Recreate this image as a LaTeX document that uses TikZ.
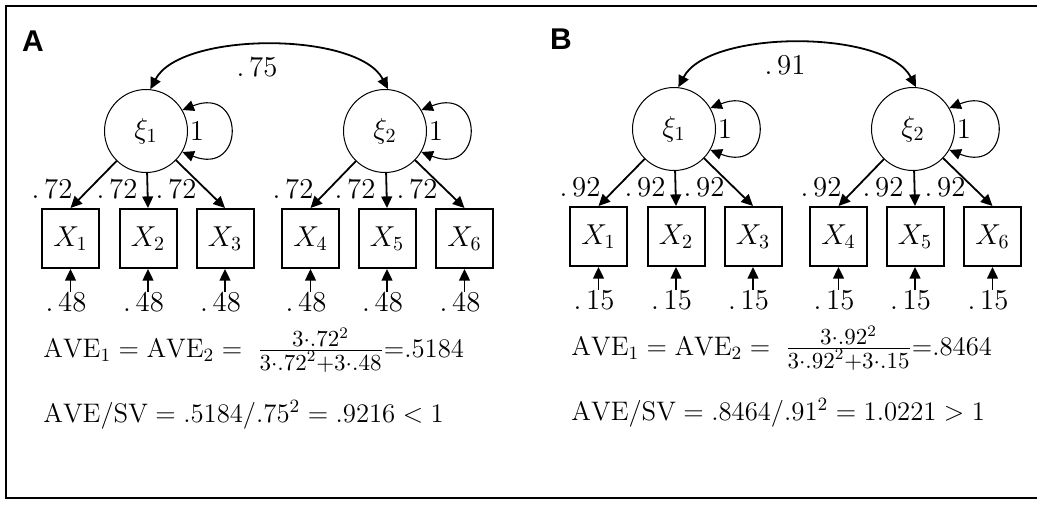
\RequirePackage{fix-cm}
\documentclass[tikz,border=0pt]{standalone}
\usepackage{fontspec}
\newfontfamily\panelfont{Liberation Sans}
\usetikzlibrary{arrows.meta}
\tikzset{
  x=0.5pt, y=-0.5pt,
  latent/.style={circle, draw, line width=0.5pt, minimum size=41.5pt, inner sep=0pt, font=\fontsize{14.4}{16}\selectfont},
  manifest/.style={rectangle, draw, line width=1pt, minimum width=28.5pt, minimum height=29.5pt, inner sep=0pt, font=\fontsize{14.4}{16}\selectfont},
  tiphead/.style={-{Triangle[length=5.8pt,width=5.4pt]}},
  arr/.style={line width=0.9pt, tiphead},
  dblarr/.style={line width=0.9pt, {Triangle[length=5.8pt,width=5.4pt]}-{Triangle[length=5.8pt,width=5.4pt]}},
  looparr/.style={line width=0.55pt, {Triangle[length=5.8pt,width=5.4pt]}-{Triangle[length=5.8pt,width=5.4pt]}},
  lbl/.style={inner sep=0pt, font=\fontsize{14.4}{16}\selectfont},
  errlbl/.style={inner sep=0pt, font=\fontsize{14.4}{16}\selectfont},
  eqn/.style={inner sep=0pt, anchor=base west, font=\fontsize{13.4}{15}\selectfont},
  letter/.style={inner sep=0pt, font=\panelfont\bfseries\fontsize{15}{17}\selectfont},
  frame/.style={line width=1.3pt}
}
\newcommand\smallpart[1]{\mbox{\fontsize{11.5}{13}\selectfont$#1$}}
% #1 prefix, #2 letter, #3 cov, #4 loading, #5 error, #6 AVE, #7 line 2
\newcommand\semPanel[7]{%
\begin{scope}[name prefix=#1-]
  \node[letter] (letter) at (33,41) {#2};
  \node[latent] (xi1) at (146,131) {$\xi_1$};
  \node[latent] (xi2) at (385,131) {$\xi_2$};
  \foreach \i/\x in {1/70.5,2/148,3/225,4/310.5,5/387,6/464.5}{
    \node[manifest] (x\i) at (\x,238.5) {$X_\i$};
    \coordinate (e\i) at (\x,292);
    \node[errlbl] (el\i) at (\x-4.5,302) {$.\,#5$};
    \draw[arr] (e\i) -- (x\i.south);
  }
  \foreach \k in {1,2,3}{\draw[arr] (xi1) -- (x\k.north);}
  \foreach \k in {4,5,6}{\draw[arr] (xi2) -- (x\k.north);}
  \foreach \i/\x in {1/52,2/117,3/176,4/293,5/355,6/417}{
    \node[lbl] (ll\i) at (\x,189) {$.\,#4$};
  }
  \draw[dblarr] (xi1.84) .. controls +(30,-58) and +(-30,-58) .. (xi2.86);
  \node[lbl] (cov) at (257,67) {$.\,#3$};
  \draw[looparr] (xi1.30) .. controls +(63,-25) and +(63,25) .. (xi1.-30);
  \draw[looparr] (xi2.30) .. controls +(63,-25) and +(63,25) .. (xi2.-30);
  \node[lbl] (v1) at (197,131) {$1$};
  \node[lbl] (v2) at (436,131) {$1$};
  \node[eqn] (eq1) at (43,357) {$\mathrm{AVE}_1 = \mathrm{AVE}_2 = \;\frac{\smallpart{3{\cdot}.#4^2}}{\smallpart{3{\cdot}.#4^2{+}3{\cdot}.#5}}{=}.#6$};
  \node[eqn] (eq2) at (43,422.5) {$#7$};
\end{scope}}
\begin{document}
\begin{tikzpicture}
  \useasboundingbox (0,0) rectangle (1037,505);
  \coordinate (f1) at (1037,6);
  \coordinate (f2) at (6,6);
  \coordinate (f3) at (6,498);
  \coordinate (f4) at (1037,498);
  \draw[frame] (f1) -- (f2) -- (f3) -- (f4);
  \semPanel{A}{A}{75}{72}{48}{5184}{\mathrm{AVE}/\mathrm{SV} = .5184/.75^2 = .9216 < 1}
  \begin{scope}[shift={(528,-2)}]
    \semPanel{B}{B}{91}{92}{15}{8464}{\mathrm{AVE}/\mathrm{SV} = .8464/.91^2 = 1.0221 > 1}
  \end{scope}
\end{tikzpicture}
\end{document}
